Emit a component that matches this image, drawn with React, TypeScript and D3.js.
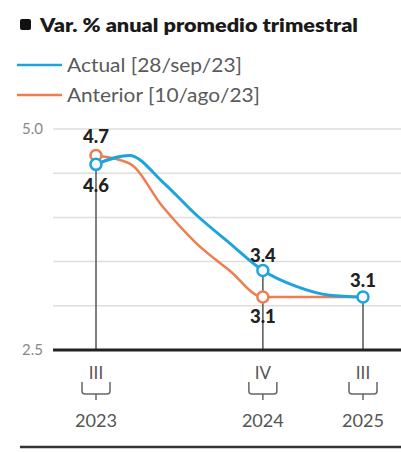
import React, { useEffect, useRef } from 'react';
import * as d3 from 'd3';

const quarters = ['2023-III', '2023-IV', '2024-I', '2024-II', '2024-III', '2024-IV', '2025-I', '2025-II', '2025-III'];
const actual = [4.6, 4.7, 4.4, 4.03, 3.71, 3.4, 3.22, 3.12, 3.1];
const anterior = [4.7, 4.61, 4.12, 3.71, 3.4, 3.1, 3.1, 3.1, 3.1];
const yTicks = [5.0, 4.5, 4.0, 3.5, 3.0, 2.5];
const yTickLabels = ['5.0', '2.5'];
const xMarks = [
  { q: '2023-III', quarter: 'III', year: '2023' },
  { q: '2024-IV', quarter: 'IV', year: '2024' },
  { q: '2025-III', quarter: 'III', year: '2025' },
];
const actualMarks = [0, 5, 8];
const anteriorMarks = [0, 5];
const valueLabels = [
  { series: 'anterior', i: 0, dy: -19 },
  { series: 'actual', i: 0, dy: 21 },
  { series: 'actual', i: 5, dy: -15 },
  { series: 'anterior', i: 5, dy: 20 },
  { series: 'actual', i: 8, dy: -16 },
];

const BLUE = '#1ea4dd';
const ORANGE = '#ef7d4f';
const FONT = 'Lato, "Open Sans", sans-serif';

const App = () => {
  const ref = useRef<SVGSVGElement>(null);

  useEffect(() => {
    const svg = d3.select(ref.current);
    svg.selectAll('*').remove();

    const x = d3.scalePoint().domain(quarters).range([96, 363]);
    const y = d3.scaleLinear().domain([2.5, 5.0]).range([350, 129]);

    // title
    svg.append('rect').attr('x', 20).attr('y', 19).attr('width', 11).attr('height', 11).attr('rx', 2).attr('fill', '#111');
    svg.append('text').attr('x', 40).attr('y', 32).text('Var. % anual promedio trimestral')
      .attr('textLength', 318).attr('lengthAdjust', 'spacingAndGlyphs')
      .attr('font-family', FONT).attr('font-weight', 800).attr('font-size', 18.5).attr('fill', '#1a1a1a');

    // legend
    const legend = [
      { name: 'Actual [28/sep/23]', color: BLUE, y: 65, w: 175 },
      { name: 'Anterior [10/ago/23]', color: ORANGE, y: 95, w: 193 },
    ];
    legend.forEach((l) => {
      svg.append('line').attr('x1', 17).attr('x2', 62).attr('y1', l.y).attr('y2', l.y)
        .attr('stroke', l.color).attr('stroke-width', 2.5);
      svg.append('text').attr('x', 67).attr('y', l.y + 6.5).text(l.name)
        .attr('textLength', l.w).attr('lengthAdjust', 'spacingAndGlyphs')
        .attr('font-family', FONT).attr('font-size', 18.5).attr('fill', '#5a5a5a');
    });

    // grid
    svg.append('g').selectAll('line').data(yTicks.slice(0, -1)).enter().append('line')
      .attr('x1', 53).attr('x2', 401).attr('y1', (d) => y(d)).attr('y2', (d) => y(d))
      .attr('stroke', '#dedede').attr('stroke-width', 1.5);

    svg.append('g').selectAll('text').data(yTickLabels).enter().append('text')
      .attr('x', 43).attr('y', (d) => y(+d) + 5).attr('text-anchor', 'end').text((d) => d)
      .attr('font-family', FONT).attr('font-size', 15).attr('fill', '#888');

    // vertical drop lines
    const valAt = (q: string) => {
      const i = quarters.indexOf(q);
      return Math.max(actual[i], anterior[i]);
    };
    svg.append('g').selectAll('line').data(xMarks).enter().append('line')
      .attr('x1', (d) => x(d.q)!).attr('x2', (d) => x(d.q)!)
      .attr('y1', (d) => y(valAt(d.q))).attr('y2', y(2.5))
      .attr('stroke', '#555').attr('stroke-width', 1.5);

    // axis
    svg.append('line').attr('x1', 53).attr('x2', 401).attr('y1', y(2.5)).attr('y2', y(2.5))
      .attr('stroke', '#222').attr('stroke-width', 3);

    // lines
    const line = d3.line<number>().x((_, i) => x(quarters[i])!).y((d) => y(d)).curve(d3.curveMonotoneX);
    svg.append('path').attr('d', line(anterior)).attr('fill', 'none').attr('stroke', ORANGE).attr('stroke-width', 2.5);
    svg.append('path').attr('d', line(actual)).attr('fill', 'none').attr('stroke', BLUE).attr('stroke-width', 3);

    const marker = (vals: number[], idx: number[], color: string) => {
      svg.append('g').selectAll('circle').data(idx).enter().append('circle')
        .attr('cx', (i) => x(quarters[i])!).attr('cy', (i) => y(vals[i])).attr('r', 5.5)
        .attr('fill', '#fff').attr('stroke', color).attr('stroke-width', 2.5);
    };
    marker(anterior, anteriorMarks, ORANGE);
    marker(actual, actualMarks, BLUE);

    // value labels
    svg.append('g').selectAll('text').data(valueLabels).enter().append('text')
      .attr('x', (d) => x(quarters[d.i])!)
      .attr('y', (d) => y((d.series === 'actual' ? actual : anterior)[d.i]) + d.dy + 6.5)
      .attr('text-anchor', 'middle')
      .text((d) => (d.series === 'actual' ? actual : anterior)[d.i].toFixed(1))
      .attr('font-family', FONT).attr('font-weight', 900).attr('font-size', 18.5).attr('fill', '#222');

    // x labels with braces
    const xl = svg.append('g').selectAll('g').data(xMarks).enter().append('g')
      .attr('transform', (d) => `translate(${x(d.q)},0)`);
    xl.append('text').attr('y', 379).attr('text-anchor', 'middle').text((d) => d.quarter)
      .attr('font-family', FONT).attr('font-size', 17).attr('fill', '#555');
    xl.append('path')
      .attr('d', 'M-14,382 V391 Q-14,394 -11,394 H11 Q14,394 14,391 V382 M0,394 V400')
      .attr('fill', 'none').attr('stroke', '#666').attr('stroke-width', 1.5);
    xl.append('text').attr('y', 427).attr('text-anchor', 'middle').text((d) => d.year)
      .attr('textLength', 42).attr('lengthAdjust', 'spacingAndGlyphs')
      .attr('font-family', FONT).attr('font-size', 18).attr('fill', '#555');

    // bottom rule
    svg.append('line').attr('x1', 20).attr('x2', 401).attr('y1', 447).attr('y2', 447)
      .attr('stroke', '#333').attr('stroke-width', 2.5);
  }, []);

  return (
    <svg ref={ref} width={401} height={452} style={{ position: 'absolute', left: 0, top: 0, background: '#fff' }} />
  );
};

export default App;
